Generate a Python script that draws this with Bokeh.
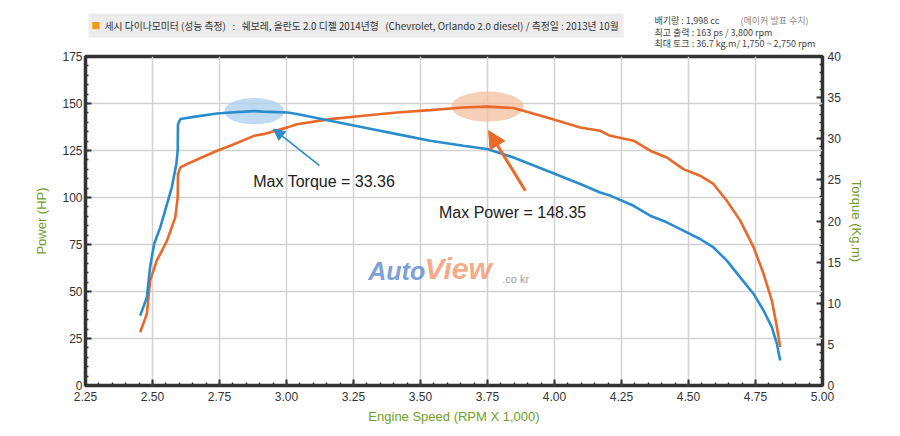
from bokeh.plotting import figure
from bokeh.layouts import column
from bokeh.models import (Range1d, LinearAxis, SingleIntervalTicker, PrintfTickFormatter,
                          Label, Arrow, NormalHead)
from bokeh.embed import file_html
from bokeh.resources import INLINE

# ---------------- data ----------------
rpm_torque = [2.454, 2.479, 2.491, 2.506, 2.529, 2.554, 2.572, 2.589, 2.594, 2.595, 2.604,
              2.654, 2.741, 2.790, 2.879, 2.914, 3.004, 3.039, 3.163, 3.288, 3.412, 3.536,
              3.660, 3.748, 3.847, 3.972, 4.096, 4.170, 4.208, 4.295, 4.357, 4.419, 4.481,
              4.543, 4.593, 4.643, 4.693, 4.743, 4.780, 4.811, 4.830, 4.842]
torque_kgm = [8.50, 10.72, 14.38, 17.21, 19.22, 22.06, 24.09, 26.93, 28.55, 31.77, 32.39,
              32.66, 33.07, 33.19, 33.36, 33.30, 33.19, 33.01, 32.18, 31.36, 30.56, 29.76,
              29.14, 28.75, 27.73, 26.10, 24.50, 23.47, 23.09, 21.85, 20.64, 19.84, 18.83,
              17.81, 16.80, 15.18, 13.14, 11.13, 9.12, 7.09, 5.05, 3.04]

rpm_power = [2.454, 2.479, 2.491, 2.516, 2.554, 2.585, 2.594, 2.595, 2.604, 2.629, 2.741,
             2.790, 2.879, 2.914, 3.004, 3.039, 3.163, 3.288, 3.412, 3.536, 3.660, 3.748,
             3.847, 3.972, 4.096, 4.170, 4.208, 4.295, 4.357, 4.419, 4.481, 4.543, 4.593,
             4.643, 4.693, 4.743, 4.780, 4.811, 4.830, 4.842]
power_hp = [28.3, 38.1, 55.8, 66.4, 77.0, 89.4, 100.1, 112.5, 116.0, 117.8, 124.9,
            127.5, 132.8, 133.7, 137.3, 139.0, 141.7, 143.5, 145.2, 146.5, 147.9, 148.35,
            147.6, 142.6, 137.2, 135.5, 132.8, 130.2, 124.9, 121.3, 115.1, 111.6, 107.2,
            98.3, 87.7, 73.5, 59.4, 45.2, 31.0, 20.4]

max_torque = 33.36
max_torque_rpm = 2.88
max_power = 148.35
max_power_rpm = 3.75

title_text = "세시 다이나모미터 (성능 측정)  :  쉐보레, 올란도 2.0 디젤 2014년형  (Chevrolet, Orlando 2.0 diesel) / 측정일 : 2013년 10월"
spec_lines = ["배기량 : 1,998 cc", "최고 출력 : 163 ps / 3,800 rpm", "최대 토크 : 36.7 kg.m/ 1,750 ~ 2,750 rpm"]
spec_note = "(메이커 발표 수치)"

BLUE = "#2a8ccb"
ORANGE = "#e8692a"
GREEN = "#6e9e2a"
FONT = "Liberation Sans"
KFONT = "Noto Sans CJK KR"

POWER_MAX = 175
TORQUE_MAX = 40
scale = TORQUE_MAX / POWER_MAX

W = 884
HEAD_H = 50
FRAME_L = 85
FRAME_R = 822
NBSP = "\u00a0"

# ---------------- header strip ----------------
# frame of this strip is aligned with the chart frame by the column layout,
# so its x range is expressed in page pixels of that frame
head = figure(width=W, height=HEAD_H, output_backend="svg", toolbar_location=None,
              x_range=Range1d(FRAME_L, FRAME_R), y_range=Range1d(HEAD_H, 0),
              x_axis_type=None, y_axis_type=None, min_border=0,
              background_fill_color="white", border_fill_color="white")
head.grid.visible = False
head.outline_line_color = None

head.add_layout(Label(x=88, y=25, text=NBSP * 5 + title_text.replace("  ", NBSP * 3),
                      text_font=KFONT, text_font_size="9.8px", text_color="#333333",
                      text_baseline="middle", background_fill_color="#ececec", padding=5))
head.add_layout(Label(x=91, y=25, text="■", text_font=KFONT, text_font_size="9px",
                      text_color="#f39a1e", text_baseline="middle"))
for line, yy in zip(spec_lines, [20, 31.5, 42.5]):
    head.add_layout(Label(x=654, y=yy, text=line, text_font=KFONT, text_font_size="9px",
                          text_color="#444444", text_baseline="middle"))
head.add_layout(Label(x=740, y=20, text=spec_note, text_font=KFONT, text_font_size="9px",
                      text_color="#8a8a8a", text_baseline="middle"))

# ---------------- main chart ----------------
p = figure(width=W, height=378, output_backend="svg", toolbar_location=None,
           x_range=Range1d(2.25, 5.00), y_range=Range1d(0, POWER_MAX),
           min_border_left=FRAME_L, min_border_right=W - FRAME_R, min_border_top=6,
           min_border_bottom=43,
           background_fill_color="white", border_fill_color="white")
p.extra_y_ranges = {"torque": Range1d(0, TORQUE_MAX)}

p.outline_line_color = "#333333"
p.outline_line_width = 3.5

p.xaxis.ticker = SingleIntervalTicker(interval=0.25, num_minor_ticks=5)
p.xaxis.formatter = PrintfTickFormatter(format="%.2f")
p.yaxis.ticker = SingleIntervalTicker(interval=25, num_minor_ticks=5)
p.xaxis.axis_label = "Engine Speed (RPM X 1,000)"
p.yaxis.axis_label = "Power (HP)"

raxis = LinearAxis(y_range_name="torque", axis_label="Torque (Kg.m)",
                   ticker=SingleIntervalTicker(interval=5, num_minor_ticks=5))
p.add_layout(raxis, "right")

for ax in [p.xaxis[0], p.yaxis[0], raxis]:
    ax.axis_line_color = None
    ax.major_tick_in = 6
    ax.major_tick_out = 0
    ax.minor_tick_in = 3
    ax.minor_tick_out = 0
    ax.major_tick_line_color = "#333333"
    ax.minor_tick_line_color = "#333333"
    ax.major_tick_line_width = 2
    ax.minor_tick_line_width = 1.5
    ax.major_label_text_font = FONT
    ax.major_label_text_font_size = "12px"
    ax.major_label_text_color = "#333333"
    ax.axis_label_text_font = FONT
    ax.axis_label_text_font_size = "13px"
    ax.axis_label_text_font_style = "normal"
    ax.axis_label_text_color = GREEN

p.xaxis.major_label_standoff = 6
p.xaxis.axis_label_standoff = 5
p.yaxis.major_label_standoff = 3
p.yaxis.axis_label_standoff = 10
raxis.major_label_standoff = 5
raxis.axis_label_standoff = 5

p.xgrid.ticker = SingleIntervalTicker(interval=0.25)
p.ygrid.ticker = SingleIntervalTicker(interval=25)
p.grid.grid_line_color = "#d2d2d2"
p.grid.grid_line_width = 1.5

# highlight ellipses
p.ellipse(x=[max_torque_rpm], y=[max_torque / scale], width=0.224, height=14,
          fill_color="#a9cdec", fill_alpha=0.75, line_color=None)
p.ellipse(x=[max_power_rpm], y=[max_power], width=0.27, height=16,
          fill_color="#f3bf9f", fill_alpha=0.75, line_color=None)

# curves
p.line(rpm_power, power_hp, line_color=ORANGE, line_width=2.6)
p.line(rpm_torque, torque_kgm, y_range_name="torque", line_color=BLUE, line_width=2.6)

# arrows
p.add_layout(Arrow(end=NormalHead(size=11, fill_color=BLUE, line_color=BLUE),
                   x_start=3.123, y_start=116.9, x_end=2.952, y_end=136.4,
                   line_color=BLUE, line_width=1.6))
p.add_layout(Arrow(end=NormalHead(size=17, fill_color=ORANGE, line_color=ORANGE),
                   x_start=3.891, y_start=103.6, x_end=3.754, y_end=135.5,
                   line_color=ORANGE, line_width=3))

p.add_layout(Label(x=2.876, y=108.6, text=f"Max Torque = {max_torque:.2f}",
                   text_font=FONT, text_font_size="16px", text_color="#222222",
                   text_baseline="middle"))
p.add_layout(Label(x=3.569, y=92.1, text=f"Max Power = {max_power:.2f}",
                   text_font=FONT, text_font_size="16px", text_color="#222222",
                   text_baseline="middle"))

# watermark
p.add_layout(Label(x=3.305, y=53.7, text="Auto", text_font=FONT, text_font_size="25px",
                   text_font_style="bold italic", text_color="#5a86cf", text_alpha=0.8))
p.add_layout(Label(x=3.515, y=53.7, text="View", text_font=FONT, text_font_size="30px",
                   text_font_style="bold italic", text_color="#f2946a", text_alpha=0.8))
p.add_layout(Label(x=3.805, y=53.7, text=".co kr", text_font=FONT, text_font_size="11px",
                   text_color="#999999"))

layout = column(head, p)
open("out.html", "w").write(file_html(layout, INLINE))
